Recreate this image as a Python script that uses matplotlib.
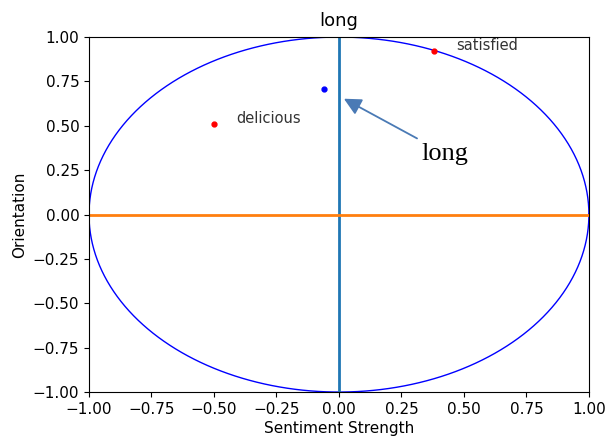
import numpy as np
import matplotlib.pyplot as plt

# words and their (strength, orientation) coordinates
words = ['delicious', 'satisfied']
word_x = [-0.50, 0.38]
word_y = [0.51, 0.92]

query = 'long'
query_x = -0.06
query_y = 0.71

arrow_tip = (0.01, 0.66)
arrow_text = (0.33, 0.31)

plt.rcParams['font.size'] = 11

fig = plt.figure(figsize=(6.07, 4.41), dpi=100)
ax = fig.add_axes([0.1466, 0.111, 0.8236, 0.805])

theta = np.linspace(0, 2 * np.pi, 400)
ax.plot(np.cos(theta), np.sin(theta), color='blue', lw=1)
ax.axvline(0, color='C0', lw=2)
ax.axhline(0, color='C1', lw=2)

ax.plot(word_x, word_y, 'o', color='red', markersize=3.5)
for w, x, y in zip(words, word_x, word_y):
    ax.text(x + 0.09, y + 0.03, w, fontsize=10.5, color='#333333', va='center')

ax.plot(query_x, query_y, 'o', color='blue', markersize=3.5)
ax.annotate(query, xy=arrow_tip, xytext=arrow_text,
            fontsize=19, family='Liberation Serif',
            arrowprops=dict(arrowstyle='-|>', color='#4a7ab5', lw=1.3,
                            mutation_scale=26))

ax.set_xlim(-1, 1)
ax.set_ylim(-1, 1)
ax.set_title(query, fontsize=13, pad=8)
ax.set_xlabel('Sentiment Strength', labelpad=3)
ax.set_ylabel('Orientation')

fig.savefig('out.png')
